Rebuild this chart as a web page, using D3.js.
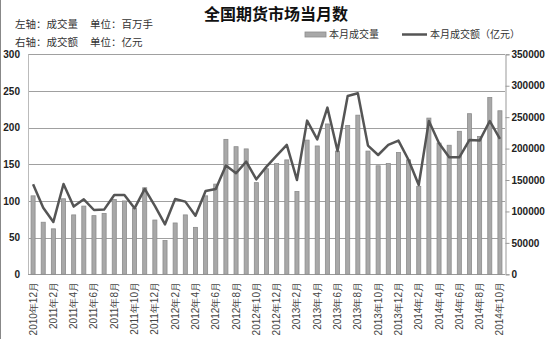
<!DOCTYPE html>
<html><head><meta charset="utf-8">
<script src="https://cdn.jsdelivr.net/npm/d3@7/dist/d3.min.js"></script>
<style>
body{margin:0;background:#fff;}
svg{display:block;font-family:"Noto Sans CJK SC","DejaVu Sans",sans-serif;}
</style></head><body>
<svg id="c" width="550" height="339"></svg>
<script>
const months = [
"2010年12月","2011年1月","2011年2月","2011年3月","2011年4月","2011年5月","2011年6月","2011年7月","2011年8月","2011年9月","2011年10月","2011年11月",
"2011年12月","2012年1月","2012年2月","2012年3月","2012年4月","2012年5月","2012年6月","2012年7月","2012年8月","2012年9月","2012年10月","2012年11月",
"2012年12月","2013年1月","2013年2月","2013年3月","2013年4月","2013年5月","2013年6月","2013年7月","2013年8月","2013年9月","2013年10月","2013年11月",
"2013年12月","2014年1月","2014年2月","2014年3月","2014年4月","2014年5月","2014年6月","2014年7月","2014年8月","2014年9月","2014年10月"];
const volume = [107,71,62,103,81,93,80,83,102,100,90,118,
74,46,70,81,64,107,123,184,174,171,125,144,
151,156,113,183,175,205,168,203,217,168,148,151,
166,156,120,213,179,176,195,219,188,241,223];
const turnover = [143200,106000,83300,143700,107700,119300,102300,102900,126200,126200,105000,135800,
108700,79500,119800,115600,93300,132600,135800,172900,160700,179200,151100,171300,
188800,205800,150100,244500,214700,265200,196200,283700,288000,204700,189800,205800,
212700,181900,142100,243900,208400,186100,186100,213700,212700,243900,215300];
const leftTicks = [0,50,100,150,200,250,300];
const rightTicks = [0,50000,100000,150000,200000,250000,300000,350000];

const svg = d3.select("#c");
const m = {l:28, r:505, t:54.3, b:274.3};
const x = d3.scaleBand().domain(months).range([m.l, m.r]).paddingInner(0.6).paddingOuter(0.3);
const yL = d3.scaleLinear().domain([0,300]).range([m.b, m.t]);
const yR = d3.scaleLinear().domain([0,350000]).range([m.b, m.t]);

// frame border left
svg.append("line").attr("x1",0.5).attr("x2",0.5).attr("y1",0).attr("y2",339).attr("stroke","#888").attr("stroke-width",1);

// gridlines
svg.append("g").selectAll("line").data(leftTicks.slice(1)).join("line")
  .attr("x1",m.l).attr("x2",m.r).attr("y1",d=>Math.round(yL(d))+0.5).attr("y2",d=>Math.round(yL(d))+0.5)
  .attr("stroke","#a0a0a0").attr("stroke-width",1);

// left axis line
svg.append("line").attr("x1",m.l+0.5).attr("x2",m.l+0.5).attr("y1",m.t).attr("y2",m.b).attr("stroke","#bbb");
// bottom axis
svg.append("line").attr("x1",m.l).attr("x2",m.r).attr("y1",Math.round(m.b)+0.5).attr("y2",Math.round(m.b)+0.5).attr("stroke","#999");

// right axis
const ra = svg.append("g").attr("transform",`translate(${m.r+0.5},0)`)
  .call(d3.axisRight(yR).tickValues(rightTicks).tickSize(4).tickFormat(d3.format("d")));
ra.select(".domain").attr("stroke","#999");
ra.selectAll(".tick line").attr("stroke","#999");
ra.selectAll("text").attr("font-family","Liberation Sans, Arial, sans-serif").attr("font-size",10).attr("font-weight","bold").attr("fill","#222").attr("x",6);

// left axis labels
const la = svg.append("g").attr("transform",`translate(${m.l},0)`)
  .call(d3.axisLeft(yL).tickValues(leftTicks).tickSize(0));
la.select(".domain").remove();
la.selectAll("text").attr("font-family","Liberation Sans, Arial, sans-serif").attr("font-size",10).attr("font-weight","bold").attr("fill","#222").attr("x",-8);

// bars
svg.append("g").selectAll("rect").data(months).join("rect")
  .attr("x",d=>x(d)).attr("width",x.bandwidth())
  .attr("y",(d,i)=>yL(volume[i])).attr("height",(d,i)=>m.b-yL(volume[i]))
  .attr("fill","#a8a8a8").attr("stroke","#8c8c8c").attr("stroke-width",0.8);

// line
const line = d3.line().x((d,i)=>x(months[i])+x.bandwidth()/2).y(d=>yR(d));
svg.append("path").datum(turnover).attr("d",line).attr("fill","none")
  .attr("stroke","#555").attr("stroke-width",2.5).attr("stroke-linejoin","round");

// x labels
svg.append("g").selectAll("text").data(months.filter((d,i)=>i%2===0)).join("text")
  .attr("transform",d=>`translate(${x(d)+x.bandwidth()/2+3.5},282) rotate(-90)`)
  .attr("text-anchor","end").attr("font-size",10).attr("fill","#444")
  .attr("font-family","Liberation Sans, Arial, sans-serif")
  .text(d=>d);

// title
svg.append("text").attr("x",276).attr("y",20).attr("text-anchor","middle")
  .attr("font-size",16).attr("font-weight","bold").attr("fill","#111").text("全国期货市场当月数");

// axis notes
const note = svg.append("g").attr("font-size",10.5).attr("fill","#333");
note.append("text").attr("x",15).attr("y",28).text("左轴：成交量");
note.append("text").attr("x",90).attr("y",28).text("单位：百万手");
note.append("text").attr("x",15).attr("y",46).text("右轴：成交额");
note.append("text").attr("x",90).attr("y",46).text("单位：亿元");

// legend
const lg = svg.append("g").attr("font-size",10).attr("fill","#333");
lg.append("rect").attr("x",305).attr("y",32).attr("width",21).attr("height",5).attr("fill","#a8a8a8").attr("stroke","#8c8c8c").attr("stroke-width",0.8);
lg.append("text").attr("x",329).attr("y",38).text("本月成交量");
lg.append("line").attr("x1",402).attr("x2",427).attr("y1",34.5).attr("y2",34.5).attr("stroke","#555").attr("stroke-width",2.5);
lg.append("text").attr("x",430).attr("y",38).text("本月成交额（亿元）");
</script>
</body></html>
